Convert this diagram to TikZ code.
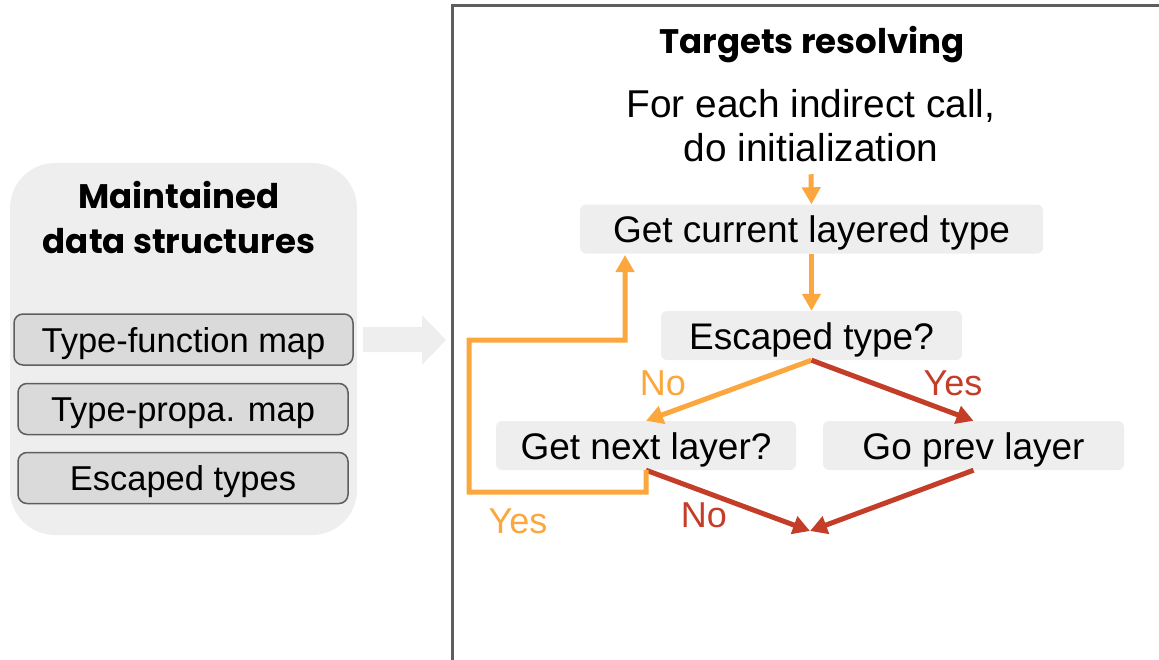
\documentclass[tikz,border=0pt]{standalone}
\usepackage{fontspec}
\setmainfont{Liberation Sans}
\newfontfamily\headfont{Poppins}
\usetikzlibrary{arrows.meta}
\definecolor{orangeflow}{HTML}{FBA73D}
\definecolor{redflow}{HTML}{C33D28}
\definecolor{panelgray}{HTML}{EEEEEE}
\definecolor{itemgray}{HTML}{DADADA}
\definecolor{framegray}{HTML}{5E5E5E}

\begin{document}
\begin{tikzpicture}[x=1pt,y=-1pt,
  stepbox/.style={fill=panelgray, rounded corners=6pt, inner sep=0pt,
    minimum height=49pt, text height=27pt, text depth=0pt,
    font=\fontsize{37}{44}\selectfont},
  item/.style={draw=framegray, line width=1.5pt, fill=itemgray,
    rounded corners=9pt, minimum height=51pt, inner sep=0pt,
    text height=25pt, text depth=0pt,
    font=\fontsize{34.5}{40}\selectfont},
  flow/.style={line width=5pt, -{Triangle[length=17pt,width=18pt]}},
  lbl/.style={font=\fontsize{36}{40}\selectfont, inner sep=0pt},
  heading/.style={font=\headfont\bfseries\fontsize{34}{45}\selectfont, align=center},
]
\useasboundingbox (0,0) rectangle (1159,659);
\clip (0,0) rectangle (1159,659);

% left panel with the maintained data structures
\node[fill=panelgray, rounded corners=45pt, minimum width=347pt,
      minimum height=372pt] (panel) at (183.5,349) {};
\node[heading] (dshead) at (179,218) {Maintained\\data structures};
\node[item, minimum width=339pt] (tfmap) at (183.5,339.5) {Type-function map};
\node[item, minimum width=330pt] (tpmap) at (183,409) {Type-propa. map};
\node[item, minimum width=330pt] (esctypes) at (183,478) {Escaped types};

% block arrow between the panel and the resolving frame
\fill[panelgray] (363,327) -- (422,327) -- (422,315) -- (446,340)
  -- (422,365) -- (422,352) -- (363,352) -- cycle;

% frame of the resolving procedure
\draw[framegray, line width=3pt] (452,670) -- (452,5) -- (1170,5);

\node[heading] (title) at (812,45) {Targets resolving};
\node[align=center, font=\fontsize{38.8}{44}\selectfont, inner sep=0pt,
      outer sep=12pt] (intro) at (811,126) {For each indirect call,\\do initialization};

\node[stepbox, minimum width=463pt] (cur) at (811.5,229) {Get current layered type};
\node[stepbox, minimum width=301pt] (esc) at (811.5,335.5) {Escaped type?};
\node[stepbox, minimum width=300pt] (next) at (646,445.5) {Get next layer?};
\node[stepbox, minimum width=301pt] (prev) at (973.5,445.5) {Go prev layer};
\coordinate (done) at (810,531);

\draw[flow, orangeflow] (intro.south) -- (cur.north);
\draw[flow, orangeflow] (cur.south) -- (esc.north);
\draw[flow, orangeflow] (esc.south) -- (next.north);
\draw[flow, redflow] (esc.south) -- (prev.north);
\draw[flow, redflow] (next.south) -- (done);
\draw[flow, redflow] (prev.south) -- (done);
\draw[flow, orangeflow] (next.south) -- ++(0,22) -- (469,492) -- (469,340)
  -- (625,340) -- (625,255);

\node[lbl, orangeflow] (noA) at (663,383) {No};
\node[lbl, redflow] (yesA) at (953,383) {Yes};
\node[lbl, redflow] (noB) at (704,515) {No};
\node[lbl, orangeflow] (yesB) at (518,521) {Yes};
\end{tikzpicture}
\end{document}
